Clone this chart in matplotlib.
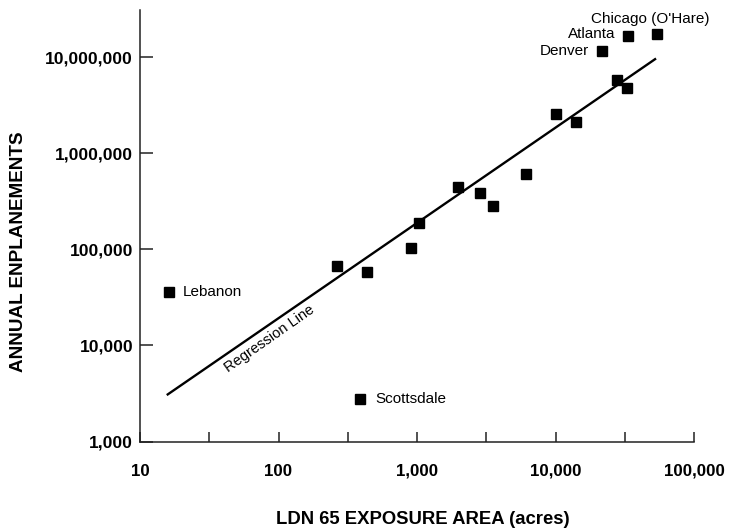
import matplotlib
matplotlib.use("Agg")
import matplotlib.pyplot as plt
from matplotlib.ticker import FixedLocator, FuncFormatter, NullFormatter
import numpy as np

plt.rcParams['font.family'] = ['Liberation Sans', 'DejaVu Sans']

# Airports: LDN 65 exposure area (acres) vs annual enplanements
area = [16.2, 388, 266, 433, 905, 1030, 1990, 2850, 3540, 6150,
        10100, 14000, 21600, 27900, 33000, 33600, 53800]
enplanements = [35800, 2760, 66600, 57700, 102000, 189000, 450000, 381000, 284000, 614000,
                2540000, 2110000, 11500000, 5720000, 4790000, 16700000, 17400000]
names = ["Lebanon", "Scottsdale", "", "", "", "", "", "", "", "",
         "", "", "Denver", "", "", "Atlanta", "Chicago (O'Hare)"]

reg_x = [15.6, 53200]
reg_y = [3040, 9670000]

x_ticks = [10, 100, 1000, 10000, 100000]
x_minor = [31.6, 316, 3162, 31623]
y_ticks = [1000, 10000, 100000, 1000000, 10000000]

fig = plt.figure(figsize=(7.3, 5.28), dpi=100)
L, R, B, T = 140/730, 694/730, (528-441.5)/528, (528-10)/528
ax = fig.add_axes([L, B, R-L, T-B])
ax.set_xscale('log')
ax.set_yscale('log')
ax.set_xlim(10, 100000)
ax.set_ylim(1000, 10**7.49)

ax.plot(reg_x, reg_y, color='black', lw=1.7, solid_capstyle='butt')
ax.plot(area, enplanements, linestyle='none', marker='s', ms=7.8,
        color='black', mec='black')

# labels
offsets = {
    "Lebanon": ((10, 0), 'left', 'center'),
    "Scottsdale": ((11, 0), 'left', 'center'),
    "Denver": ((-9, 0), 'right', 'center'),
    "Atlanta": ((-9, 1), 'right', 'center'),
    "Chicago (O'Hare)": ((-4.5, 11), 'center', 'center'),
}
for x, y, n in zip(area, enplanements, names):
    if n:
        off, ha, va = offsets[n]
        ax.annotate(n, (x, y), xytext=off, textcoords='offset points',
                    ha=ha, va=va, fontsize=11)

ax.text(86, 11800, "Regression Line", rotation=35, ha='center', va='center',
        fontsize=10.5, rotation_mode='anchor')

for s in ['top', 'right']:
    ax.spines[s].set_visible(False)
for s in ['left', 'bottom']:
    ax.spines[s].set_linewidth(1.1)
    ax.spines[s].set_color('#222222')

ax.xaxis.set_major_locator(FixedLocator(x_ticks))
ax.xaxis.set_minor_locator(FixedLocator(x_minor))
ax.yaxis.set_major_locator(FixedLocator(y_ticks))
ax.yaxis.set_minor_locator(FixedLocator([]))
fmt = FuncFormatter(lambda v, p: f"{int(round(v)):,}")
ax.xaxis.set_major_formatter(fmt)
ax.yaxis.set_major_formatter(fmt)
ax.xaxis.set_minor_formatter(NullFormatter())

ax.tick_params(axis='x', which='both', direction='in', length=7, width=1.1,
               pad=16, labelsize=12.2, color='#222222')
ax.tick_params(axis='y', which='major', direction='in', length=9, width=1.1,
               pad=5, labelsize=12.6, color='#222222')
for lab in ax.get_xticklabels() + ax.get_yticklabels():
    lab.set_fontweight('bold')

ax.set_xlabel("LDN 65 EXPOSURE AREA (acres)", fontsize=13.3, fontweight='bold')
ax.set_ylabel("ANNUAL ENPLANEMENTS", fontsize=13.6, fontweight='bold')
ax.xaxis.set_label_coords(0.51, -0.161)
ax.yaxis.set_label_coords(-0.204, 0.439)

fig.savefig("out.png", dpi=100)
